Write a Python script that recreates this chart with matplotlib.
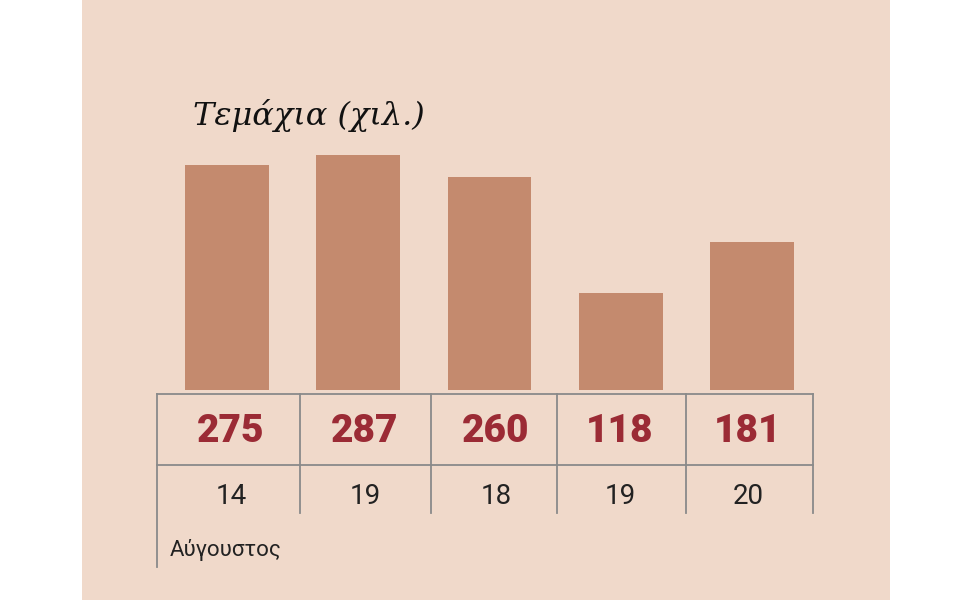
import matplotlib
matplotlib.use("Agg")
import matplotlib.pyplot as plt
from matplotlib.lines import Line2D
from matplotlib.patches import Rectangle

values = [275, 287, 260, 118, 181]
days = ["14", "19", "18", "19", "20"]
month = "Αύγουστος"
title = "Τεμάχια (χιλ.)"

BG = "#F0D9CA"
BAR = "#C48A6E"
RED = "#9B2B35"
LINE = "#8A8A8A"

fig = plt.figure(figsize=(9.6, 6), dpi=100)
fig.patch.set_facecolor("white")

def P(x, y):
    return x / 960, (600 - y) / 600

bg = fig.add_axes([82 / 960, 0, 808 / 960, 1], zorder=-5)
bg.set_facecolor(BG)
bg.axis("off")
bg.add_patch(Rectangle((0, 0), 1, 1, transform=bg.transAxes, facecolor=BG, edgecolor="none"))

x0, x1 = 161.4, 817.6
ax = fig.add_axes([x0 / 960, 0.35, (x1 - x0) / 960, 0.7593 - 0.35], zorder=5)
ax.set_facecolor("none")
ax.bar(range(len(values)), values, width=0.64, color=BAR)
ax.set_xlim(-0.5, len(values) - 0.5)
ax.set_ylim(0, 300)
ax.axis("off")

def line(xa, ya, xb, yb):
    fig.add_artist(Line2D([xa / 960, xb / 960], [(600 - ya) / 600, (600 - yb) / 600],
                          transform=fig.transFigure, color=LINE, lw=1.3, zorder=10))

line(157, 394, 813, 394)
line(157, 465, 813, 465)
vx = [157, 300, 431, 557, 686, 813]
for i, x in enumerate(vx):
    line(x, 394, x, 567 if i == 0 else 513)

centers = [231, 365, 496, 620, 748]
for c, v, d in zip(centers, values, days):
    fig.text(*P(c, 432), str(v), ha="center", va="center", color=RED,
             fontsize=28, fontweight="heavy", family="Roboto", zorder=10)
    fig.text(*P(c, 497), d, ha="center", va="center", color="#222222",
             fontsize=20, family="Roboto", zorder=10)

fig.text(*P(170, 550), month, ha="left", va="center", color="#222222",
         fontsize=16, family="Roboto", zorder=10)
fig.text(*P(193, 116), title, ha="left", va="center", color="#111111",
         fontsize=23, style="italic", family="DejaVu Serif", zorder=10)

fig.savefig("out.png", dpi=100, facecolor=fig.get_facecolor())
